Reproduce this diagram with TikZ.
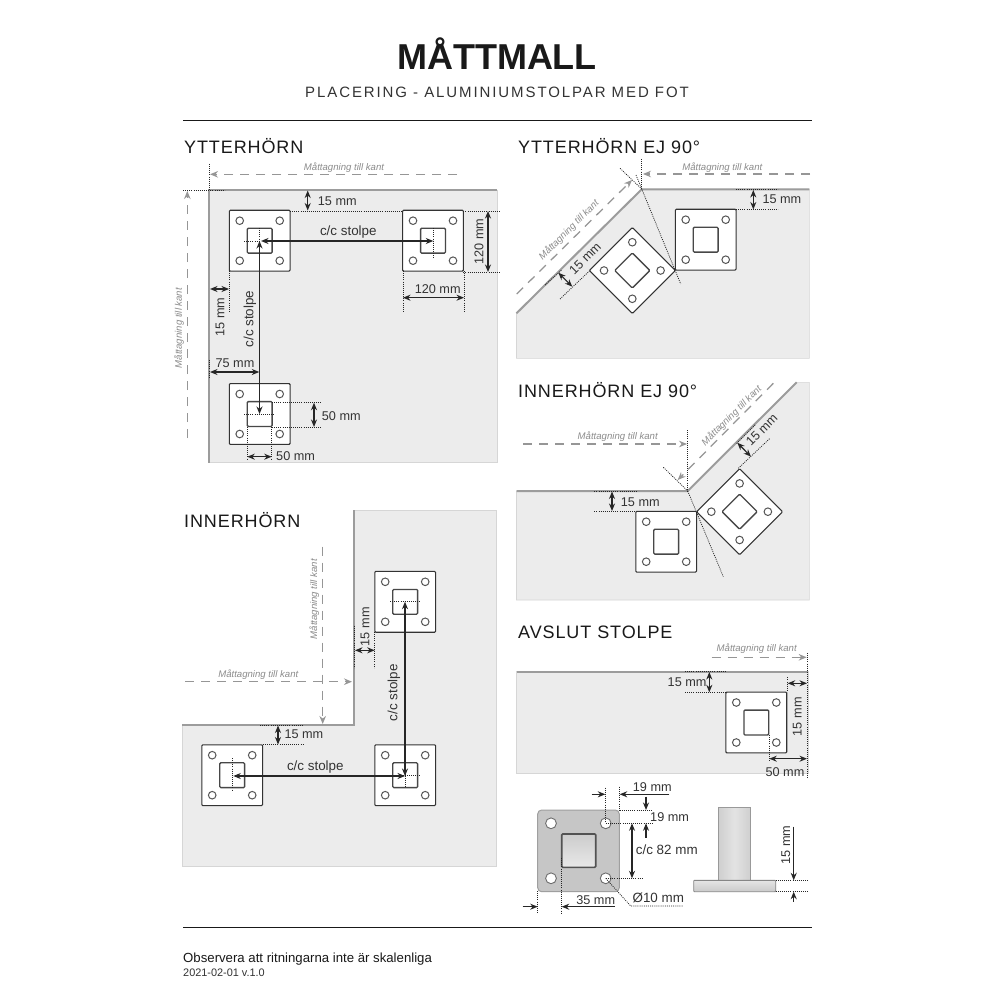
\documentclass[tikz,border=0pt]{standalone}
\usepackage{fontspec}
\usetikzlibrary{arrows.meta}
\setmainfont{Liberation Sans}
\newfontfamily\headfont[LetterSpace=5]{Liberation Sans}
\newfontfamily\subfont[LetterSpace=12.7]{Liberation Sans}
\definecolor{txt}{HTML}{333333}
\definecolor{areafill}{HTML}{ECECEC}
\definecolor{edgegray}{HTML}{9C9C9C}
\definecolor{dashgray}{HTML}{969696}
\definecolor{notegray}{HTML}{8C8C8C}
\definecolor{lightedge}{HTML}{D6D6D6}
\definecolor{platedark}{HTML}{333333}
\definecolor{holegray}{HTML}{555555}
\tikzset{
  area/.style={fill=areafill,draw=lightedge,line width=.6pt},
  edgeline/.style={draw=edgegray,line width=2pt,line join=miter},
  dimarrow/.style={draw=black!85,line width=1.15pt,{Stealth[length=7.5pt,width=6pt]}-{Stealth[length=7.5pt,width=6pt]}},
  onearrow/.style={draw=black!85,line width=1.15pt,-{Stealth[length=7.5pt,width=6pt]}},
  dots/.style={draw=black!85,line width=.75pt,dash pattern=on 1pt off 1.1pt},
  measure/.style={draw=dashgray,line width=1.25pt,dash pattern=on 9pt off 7pt,-{Stealth[length=8pt,width=6.5pt]}},
  dimtext/.style={font=\fontsize{12.7}{14}\selectfont,text=txt,inner sep=0pt},
  cctext/.style={font=\fontsize{13.4}{15}\selectfont,text=txt,inner sep=0pt},
  note/.style={font=\fontsize{9.6}{11}\selectfont\itshape,text=notegray,inner sep=0pt},
  heading/.style={font=\fontsize{18}{20}\headfont,text=black!90,inner sep=0pt,anchor=west},
  plateout/.style={fill=white,draw=platedark,line width=1.1pt,rounded corners=1pt},
  platein/.style={draw=platedark!90,line width=1.3pt,rounded corners=1pt},
  platehole/.style={draw=holegray,line width=1pt,fill=white},
  rulerline/.style={draw=black!90,line width=.9pt}
}
\newcommand{\plate}[3]{%
  \begin{scope}[shift={(#1,#2)},rotate=#3]
    \draw[plateout] (-30.4,-30.4) rectangle (30.4,30.4);
    \draw[platein] (-12.4,-12.4) rectangle (12.4,12.4);
    \foreach \hx in {-20,20}{\foreach \hy in {-20,20}{\draw[platehole] (\hx,\hy) circle (3.8);}}
  \end{scope}}
\begin{document}
\begin{tikzpicture}[x=1pt,y=-1pt]
\useasboundingbox (0,0) rectangle (1000,1000);
\fill[white] (0,0) rectangle (1000,1000);
% header
\node[inner sep=0pt,font=\fontsize{36}{38}\selectfont\bfseries,text=black!90] (title) at (497,54) {MÅTTMALL};
\node[inner sep=0pt,font=\fontsize{15}{17}\subfont,text=txt] (subtitle) at (497,92) {PLACERING - ALUMINIUMSTOLPAR MED FOT};
\draw[rulerline] (183,120.5) -- (812,120.5);
\draw[rulerline] (183,927.5) -- (812,927.5);
\node[inner sep=0pt,anchor=west,font=\fontsize{13.2}{15}\selectfont,text=black!90] (foot1) at (183,959.5) {Observera att ritningarna inte är skalenliga};
\node[inner sep=0pt,anchor=west,font=\fontsize{10.9}{12}\selectfont,text=txt] (foot2) at (183,973) {2021-02-01 v.1.0};

% ---------- YTTERHORN
\node[heading] (h1) at (184,146) {YTTERHÖRN};
\fill[area] (209,190) rectangle (497,462.5);
\draw[edgeline] (209,462.5) -- (209,190) -- (497,190);
\plate{259.7}{240.7}{0}
\plate{433}{240.7}{0}
\plate{259.7}{414}{0}
\draw[dots] (209,164) -- (209,190);
\draw[dots] (183,190) -- (225,190);
\draw[measure] (457,174.3) -- (210,174.3);
\node[note] (n1) at (344,167.3) {Måttagning till kant};
\draw[measure] (187.3,438) -- (187.3,191);
\node[note,rotate=90] (n2) at (179,328) {Måttagning till kant};
\draw[dots] (244,241) -- (259.5,241);
\draw[dots] (259.5,228) -- (259.5,241);
\draw[dots] (433.3,228) -- (433.3,258);
\draw[dots] (244,414) -- (275,414);
\draw[dimarrow] (261,241) -- (433.3,241);
\draw[dimarrow] (259.5,241) -- (259.5,414);
\node[cctext] (c1) at (348.3,231.7) {c/c stolpe};
\node[cctext,rotate=90] (c2) at (250,319) {c/c stolpe};
\draw[dimarrow] (307.7,190.5) -- (307.7,210.5);
\node[dimtext,anchor=west] (d1) at (317.7,200.7) {15 mm};
\draw[dots] (290,211) -- (402.7,211);
\draw[dots] (463.3,211) -- (500,211);
\draw[dots] (463.3,272) -- (500,272);
\draw[dimarrow] (488,211) -- (488,272);
\node[dimtext,rotate=90] (d2) at (479,241.7) {120 mm};
\draw[dots] (403,271) -- (403,312);
\draw[dots] (464,271) -- (464,312);
\draw[dimarrow] (403,297.7) -- (464,297.7);
\node[dimtext] (d3) at (437.7,289) {120 mm};
\draw[dots] (229,271) -- (229,312);
\draw[dimarrow] (210,289) -- (229,289);
\node[dimtext,rotate=90] (d4) at (220,317) {15 mm};
\draw[dots] (209,360) -- (209,378);
\draw[dimarrow] (210,372) -- (259.3,372);
\node[dimtext] (d5) at (235,362.7) {75 mm};
\draw[dots] (272,402.7) -- (322,402.7);
\draw[dots] (272,427) -- (322,427);
\draw[dimarrow] (314,402.7) -- (314,427);
\node[dimtext,anchor=west] (d6) at (321.7,416) {50 mm};
\draw[dots] (247.3,427) -- (247.3,460);
\draw[dots] (271.7,427) -- (271.7,460);
\draw[dimarrow] (247.3,456.7) -- (271.7,456.7);
\node[dimtext,anchor=west] (d7) at (276,456) {50 mm};

% ---------- INNERHORN
\node[heading] (h2) at (184,520) {INNERHÖRN};
\fill[area] (354,510) -- (496.7,510) -- (496.7,866) -- (182.3,866) -- (182.3,725) -- (354,725) -- cycle;
\draw[edgeline] (354,510) -- (354,725) -- (182.3,725);
\plate{405.2}{601.8}{0}
\plate{405.2}{775.2}{0}
\plate{232.2}{775.2}{0}
\draw[dots] (390,601.7) -- (420,601.7);
\draw[dots] (390,775.5) -- (420,775.5);
\draw[dots] (405,763) -- (405,788);
\draw[dots] (232.7,758) -- (232.7,791);
\draw[dimarrow] (233.3,776) -- (405,776);
\draw[dimarrow] (405,601.7) -- (405,776);
\node[cctext] (c3) at (315.3,767.3) {c/c stolpe};
\node[cctext,rotate=90] (c4) at (394,692.7) {c/c stolpe};
\draw[dots] (354,625.7) -- (354,667.7);
\draw[dots] (374.7,632) -- (374.7,667.7);
\draw[dimarrow] (355,650.3) -- (374.7,650.3);
\node[dimtext,rotate=90] (d8) at (365,626.7) {15 mm};
\draw[measure] (185,681.7) -- (352,681.7);
\node[note] (n3) at (258.3,674.3) {Måttagning till kant};
\draw[measure] (322.7,546.7) -- (322.7,724);
\node[note,rotate=90] (n4) at (314.3,599.3) {Måttagning till kant};
\draw[dots] (260,725) -- (303.3,725);
\draw[dots] (262.7,744.7) -- (303.3,744.7);
\draw[dimarrow] (278,725.5) -- (278,744.5);
\node[dimtext,anchor=west] (d9) at (284.3,734.3) {15 mm};

% ---------- YTTERHORN EJ 90
\node[heading] (h3) at (518,146) {YTTERHÖRN EJ 90°};
\fill[area] (516.5,313.3) -- (641.7,189.3) -- (809.3,189.3) -- (809.3,358.3) -- (516.5,358.3) -- cycle;
\draw[edgeline] (516.5,313.3) -- (641.7,189.3) -- (809.3,189.3);
\plate{705.7}{239.7}{0}
\plate{632.3}{270.5}{45}
\draw[dots] (641.7,159) -- (641.7,189);
\draw[dots] (620,168.3) -- (641.7,189);
\draw[dots] (636,175) -- (680.7,284);
\draw[measure] (810,174) -- (643,174);
\node[note] (n5) at (722.3,167.3) {Måttagning till kant};
\draw[measure] (516.7,294) -- (632,180);
\node[note,rotate=45] (n6) at (569,230) {Måttagning till kant};
\draw[dots] (545,285) -- (561.7,270);
\draw[dots] (560,299) -- (589.7,270.7);
\draw[dimarrow] (558.3,272.7) -- (572.3,286.7);
\node[dimtext,rotate=45] (d10) at (585,258.3) {15 mm};
\draw[dots] (736,189.3) -- (778,189.3);
\draw[dots] (736,209.7) -- (778,209.7);
\draw[dimarrow] (753.3,190) -- (753.3,209.5);
\node[dimtext,anchor=west] (d11) at (762.3,199.3) {15 mm};

% ---------- INNERHORN EJ 90
\node[heading] (h4) at (518,390) {INNERHÖRN EJ 90°};
\fill[area] (516.5,491) -- (687.7,491) -- (796.7,382.3) -- (809.3,382.3) -- (809.3,600) -- (516.5,600) -- cycle;
\draw[edgeline] (516.5,491) -- (687.7,491) -- (796.7,382.3);
\plate{666.2}{541.7}{0}
\plate{739.6}{511.7}{45}
\draw[dots] (687.7,430) -- (687.7,491);
\draw[dots] (663.3,467.3) -- (687.7,491);
\draw[dots] (687.7,491) -- (723.3,576.7);
\draw[measure] (523.3,444) -- (687,444);
\node[note] (n7) at (617.7,437) {Måttagning till kant};
\draw[measure] (773.3,383.3) -- (677.7,480);
\node[note,rotate=45] (n8) at (731.7,415.7) {Måttagning till kant};
\draw[dots] (736.7,443.5) -- (755,425);
\draw[dots] (738.3,468.3) -- (770,438.3);
\draw[dimarrow] (737.3,442.7) -- (751,456.7);
\node[dimtext,rotate=45] (d12) at (761.7,430) {15 mm};
\draw[dots] (594.3,491) -- (636.7,491);
\draw[dots] (594.3,511.7) -- (636,511.7);
\draw[dimarrow] (612,491.5) -- (612,511);
\node[dimtext,anchor=west] (d13) at (620.7,501.7) {15 mm};

% ---------- AVSLUT STOLPE
\node[heading] (h5) at (518,632) {AVSLUT STOLPE};
\fill[area] (516.5,671.7) rectangle (808.3,773.3);
\draw[edgeline] (516.5,671.7) -- (808.3,671.7);
\plate{756.3}{722.5}{0}
\draw[dots] (807.3,653) -- (807.3,778);
\draw[measure] (711.7,657.3) -- (806.7,657.3);
\node[note] (n9) at (756.7,649) {Måttagning till kant};
\draw[dots] (685,671.7) -- (726.7,671.7);
\draw[dots] (685,692.3) -- (726,692.3);
\draw[dimarrow] (709.3,672) -- (709.3,692.3);
\node[dimtext,anchor=east] (d14) at (706.7,681.7) {15 mm};
\draw[dots] (769.3,735) -- (769.3,761.7);
\draw[dots] (787,677.3) -- (787,692);
\draw[dimarrow] (787.7,683.3) -- (807,683.3);
\node[dimtext,rotate=90] (d15) at (797.3,716.7) {15 mm};
\draw[dimarrow] (769.3,758.7) -- (807,758.7);
\node[dimtext] (d16) at (785,771.7) {50 mm};

% ---------- DETAIL PLATE
\draw[fill=gray!45,draw=gray!75,line width=1pt,rounded corners=4pt] (537.7,810) rectangle (619.3,891.7);
\shade[top color=gray!40,bottom color=gray!18,draw=black!68,line width=1.6pt,rounded corners=1pt] (561.7,834) rectangle (595.7,867.3);
\foreach \hx/\hy in {551/823.3,605.7/823.3,551/878.3,605.7/878.3}{\draw[fill=white,draw=gray!85!black,line width=.9pt] (\hx,\hy) circle (5.4);}
\draw[dots] (605.3,787.7) -- (605.3,823);
\draw[dots] (619.7,786.7) -- (619.7,810);
\draw[onearrow] (591.7,794.3) -- (605.3,794.3);
\draw[onearrow] (669.3,794.3) -- (619.7,794.3);
\node[dimtext] (e1) at (652.3,787.5) {19 mm};
\draw[dots] (619.7,810) -- (652.3,810);
\draw[dots] (605.7,823.3) -- (652.3,823.3);
\draw[onearrow] (646,796.7) -- (646,810);
\draw[onearrow] (646,837.7) -- (646,823.3);
\node[dimtext,anchor=west] (e2) at (650,816.7) {19 mm};
\draw[dots] (606,878.3) -- (642.3,878.3);
\draw[dimarrow] (632,823.3) -- (632,878.3);
\node[cctext,anchor=west] (e3) at (635.7,849.3) {c/c 82 mm};
\draw[dots] (605.7,878.3) -- (630.7,906) -- (683.3,906);
\node[cctext] (e4) at (658.3,897.7) {Ø10 mm};
\draw[dots] (537.7,891) -- (537.7,913);
\draw[dots] (561.7,858) -- (561.7,913);
\draw[onearrow] (522.7,906.7) -- (537.7,906.7);
\draw[onearrow] (615,906.7) -- (561.7,906.7);
\node[dimtext] (e5) at (595.7,900) {35 mm};
% post
\shade[left color=gray!38,right color=gray!38,middle color=gray!22,draw=gray!80,line width=.7pt] (718.3,807.3) rectangle (750.7,880);
\shade[top color=gray!20,bottom color=gray!42,draw=gray!95,line width=.9pt,rounded corners=.8pt] (693.7,880.3) rectangle (775.7,891.7);
\draw[dots] (775.7,880.3) -- (808.3,880.3);
\draw[dots] (775.7,891.7) -- (808.3,891.7);
\draw[onearrow] (793.7,826.7) -- (793.7,880.3);
\draw[onearrow] (793.7,901.7) -- (793.7,891.7);
\node[dimtext,rotate=90] (e6) at (785.7,845) {15 mm};
\end{tikzpicture}
\end{document}
